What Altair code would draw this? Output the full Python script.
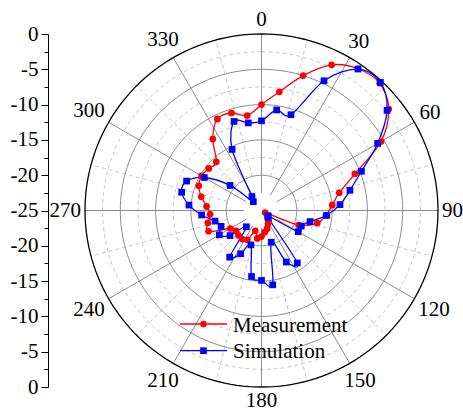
import altair as alt
import pandas as pd
import numpy as np

# ---- data ----
angles = [0, 8.57, 17.14, 25.71, 34.29, 42.86, 51.43, 60, 68.57, 77.14, 85.71,
          94.29, 102.86, 111.43, 120, 128.57, 137.14, 145.71, 154.29, 162.86,
          171.43, 180, 188.57, 197.14, 205.71, 214.29, 222.86, 231.43, 240,
          248.57, 257.14, 265.71, 274.29, 282.86, 291.43, 300, 308.57, 317.14,
          325.71, 334.29, 342.86, 351.43]

measurement = [-10.0, -8.0, -5.0, -2.1, -0.7, -0.4, -1.95, -5.45, -10.8, -13.7,
               -14.95, -15.85, -16.9, -19.35, -24.4, -23.9, -23.7, -23.2, -22.9,
               -22.3, -21.9, -21.3, -21.0, -22.0, -20.4, -20.1, -20.2, -20.4,
               -19.9, -16.95, -17.2, -17.7, -17.2, -16.25, -15.45, -15.2, -15.45,
               -15.6, -12.75, -10.6, -10.55, -11.4]

simulation = [-12.3, -10.6, -10.8, -4.6, -0.75, -0.25, -2.25, -6.0, -9.8, -12.15,
              -13.85, -15.75, -17.95, -18.95, -19.0, -23.8, -23.65, -16.0, -16.9,
              -20.3, -14.35, -15.1, -15.55, -19.9, -18.2, -17.0, -21.85, -19.3,
              -18.1, -18.85, -18.25, -16.5, -14.7, -13.4, -13.6, -15.65, -19.3,
              -23.3, -22.6, -15.4, -11.8, -12.45]

series_names = ["Measurement", "Simulation"]
series_colors = ["#ff0000", "#0000ff"]
series_shapes = ["circle", "square"]

angle_ticks = [0, 30, 60, 90, 120, 150, 180, 210, 240, 270, 300, 330]
angle_minor = [15, 45, 75, 105, 135, 165, 195, 225, 255, 285, 315, 345]
solid_levels = [-20, -15, -10, -5]
dashed_levels = [-17.5, -12.5, -7.5, -2.5]
outer_level = [0]
axis_ticks = [-25, -22.5, -20, -17.5, -15, -12.5, -10, -7.5, -5, -2.5, 0,
              2.5, 5, 7.5, 10, 12.5, 15, 17.5, 20, 22.5, 25]

FONT = "Liberation Serif"
RMIN = -25  # dB at centre

# ---- tables ----
rows = []
for name, vals in zip(series_names, [measurement, simulation]):
    for k, (a, v) in enumerate(zip(angles, vals)):
        rows.append({"series": name, "k": k, "angle": a, "db": v})
data = pd.DataFrame(rows)

circ_t = np.arange(0, 361, 2)
def circles(levels):
    return pd.DataFrame([{"level": l, "t": t} for l in levels for t in circ_t])

spokes = pd.DataFrame({"angle": angle_ticks})
spokes_minor = pd.DataFrame({"angle": angle_minor})
labels = pd.DataFrame({"angle": angle_ticks, "label": [str(a) for a in angle_ticks]})

xs = alt.Scale(domain=[-25, 25], nice=False, zero=False)
ys = alt.Scale(domain=[-25, 25], nice=False, zero=False)

yaxis = alt.Axis(
    values=axis_ticks, title=None, grid=False, offset=37,
    domainColor="black", domainWidth=1, tickColor="black", tickWidth=1,
    tickSize={"condition": {"test": "datum.value % 5 === 0", "value": 7}, "value": 4},
    labelExpr="datum.value % 5 === 0 ? '' + (abs(datum.value) - 25) : ''",
    labelFont=FONT, labelFontSize=21, labelColor="black", labelPadding=3,
    labelFlush=False, labelOverlap=False)

def X(f):
    return alt.X(f, scale=xs, axis=None)

def Y(f):
    return alt.Y(f, scale=ys, axis=yaxis)

def polar_xy(ch, rexpr, texpr):
    return ch.transform_calculate(
        x=f"({rexpr})*sin(({texpr})*PI/180)",
        y=f"({rexpr})*cos(({texpr})*PI/180)")

def circle_layer(levels, color, width, dash=None):
    kw = dict(color=color, strokeWidth=width)
    if dash:
        kw["strokeDash"] = dash
    c = alt.Chart(circles(levels)).mark_line(**kw)
    c = polar_xy(c, f"datum.level-({RMIN})", "datum.t")
    return c.encode(x=X("x:Q"), y=Y("y:Q"), detail="level:N", order="t:Q")

dashed_c = circle_layer(dashed_levels, "#c8c8c8", 1, [4, 3])
solid_c = circle_layer(solid_levels, "#8c8c8c", 1)
outer_c = circle_layer(outer_level, "#000000", 1.3)

def spoke_layer(df, r0, color, dash=None):
    kw = dict(color=color, strokeWidth=1)
    if dash:
        kw["strokeDash"] = dash
    return alt.Chart(df).mark_rule(**kw).transform_calculate(
        x=f"{r0}*sin(datum.angle*PI/180)",
        y=f"{r0}*cos(datum.angle*PI/180)",
        x1=f"{-RMIN}*sin(datum.angle*PI/180)",
        y1=f"{-RMIN}*cos(datum.angle*PI/180)",
    ).encode(x=X("x:Q"), y=Y("y:Q"), x2="x1:Q", y2="y1:Q")

spk = spoke_layer(spokes, 2.5, "#8c8c8c")
spk_minor = spoke_layer(spokes_minor, 5, "#c8c8c8", [4, 3])

# label centre distance: circle + gap + half the text box projected on the ray
lab = alt.Chart(labels).mark_text(font=FONT, fontSize=21, color="black",
                                  align="center", baseline="middle").transform_calculate(
    s="abs(sin(datum.angle*PI/180))",
    c="abs(cos(datum.angle*PI/180))",
).transform_calculate(
    rl=f"{-RMIN} + (4 + 3*datum.c + datum.s*length(datum.label)*5.25 + datum.c*7)/7.06",
).transform_calculate(
    x="datum.rl*sin(datum.angle*PI/180)",
    y="datum.rl*cos(datum.angle*PI/180)",
).encode(x=X("x:Q"), y=Y("y:Q"), text="label:N")

color = alt.Color("series:N", scale=alt.Scale(domain=series_names, range=series_colors),
                  legend=None)
shape = alt.Shape("series:N", scale=alt.Scale(domain=series_names, range=series_shapes),
                  legend=None)

lines = polar_xy(alt.Chart(data).mark_line(interpolate="cardinal-closed", strokeWidth=1.3),
                 f"datum.db-({RMIN})", "datum.angle").encode(
    x=X("x:Q"), y=Y("y:Q"), color=color, order="k:Q")

points = polar_xy(alt.Chart(data).mark_point(filled=True, size=45, opacity=1),
                  f"datum.db-({RMIN})", "datum.angle").encode(
    x=X("x:Q"), y=Y("y:Q"), color=color, shape=shape)

# ---- hand-made legend (line + marker + label per series) ----
legend_layers = []
LEG_X0, LEG_X1, LEG_TXT = 95, 142, 148
LEG_Y0, LEG_DY = 290, 26.7
for i, (name, col, shp) in enumerate(zip(series_names, series_colors, series_shapes)):
    df = pd.DataFrame({"series": [name]})
    yy = LEG_Y0 + i * LEG_DY
    legend_layers.append(alt.Chart(df).mark_rule(color=col, strokeWidth=1.3).encode(
        x=alt.value(LEG_X0), x2=alt.value(LEG_X1), y=alt.value(yy)))
    legend_layers.append(alt.Chart(df).mark_point(filled=True, size=45, opacity=1,
                                                  color=col, shape=shp).encode(
        x=alt.value((LEG_X0 + LEG_X1) / 2), y=alt.value(yy)))
    legend_layers.append(alt.Chart(df).mark_text(font=FONT, fontSize=21, color="black",
                                                 align="left", baseline="alphabetic").encode(
        x=alt.value(LEG_TXT), y=alt.value(yy + 7.5), text="series:N"))

chart = alt.layer(dashed_c, spk_minor, solid_c, spk, outer_c, lab, lines, points,
                  *legend_layers).properties(
    width=353, height=353,
    autosize=alt.AutoSizeParams(type="none"),
    padding={"left": 85, "top": 34, "right": 25, "bottom": 24},
    background="white",
).configure_view(stroke=None)

chart.save("out.html", embed_options={"renderer": "svg", "actions": False})
